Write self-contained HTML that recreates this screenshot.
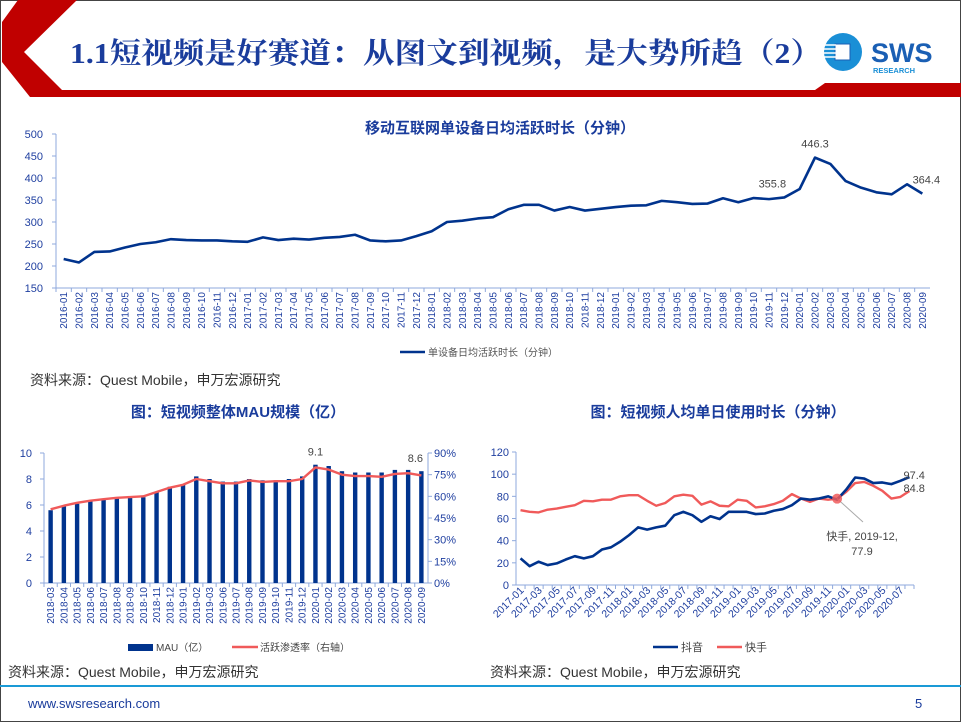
<!DOCTYPE html>
<html><head><meta charset="utf-8"><style>
html,body{margin:0;padding:0;background:#fff}
svg{display:block;font-family:"Liberation Sans","Noto Sans CJK SC",sans-serif}
</style></head><body>
<svg id="s" width="961" height="722" viewBox="0 0 961 722" xmlns="http://www.w3.org/2000/svg">
<rect x="0" y="0" width="961" height="722" fill="#fff" stroke="#444" stroke-width="2"/>
<g>
<polygon points="18,0 77,0 24,52 62,90 815,90 825,83 961,83 961,97 30,97 2,62 2,22" fill="#c00000"/>
<text x="70" y="63" font-size="29" font-weight="bold" fill="#1a3c9c" textLength="752" lengthAdjust="spacingAndGlyphs" font-family="'Liberation Serif','Noto Serif CJK SC',serif">1.1短视频是好赛道：从图文到视频，是大势所趋（2）</text>
<g>
<circle cx="843" cy="52" r="19" fill="#1a8fd6"/>
<rect x="835" y="44" width="15" height="16" fill="#fff" stroke="#1a5fb4" stroke-width="1"/>
<g stroke="#fff" stroke-width="1.5">
<line x1="824" y1="45" x2="836" y2="45"/><line x1="824" y1="49" x2="836" y2="49"/><line x1="824" y1="53" x2="836" y2="53"/><line x1="824" y1="57" x2="836" y2="57"/></g>
<text x="871" y="62" font-size="27" font-weight="bold" fill="#1a5fb4">SWS</text>
<text x="873" y="73" font-size="7.5" font-weight="bold" fill="#1a8fd6">RESEARCH</text>
</g>
</g>
<g id="top"></g>
<text x="30" y="385" font-size="14" fill="#333">资料来源：Quest Mobile，申万宏源研究</text>
<g id="bl"></g>
<g id="br"></g>
<text x="8" y="677" font-size="14" fill="#333">资料来源：Quest Mobile，申万宏源研究</text>
<text x="490" y="677" font-size="14" fill="#333">资料来源：Quest Mobile，申万宏源研究</text>
<rect x="0" y="685" width="961" height="2" fill="#1a9ad6"/>
<text x="28" y="708" font-size="13" fill="#1a3c9c">www.swsresearch.com</text>
<text x="915" y="708" font-size="13" fill="#1a3c9c">5</text>
</svg>
<script>
const NS='http://www.w3.org/2000/svg';
// ---- top chart data
const topCats=[];
for(let y=2016;y<=2020;y++)for(let m=1;m<=12;m++){if(y===2020&&m>9)break;topCats.push(y+'-'+String(m).padStart(2,'0'));}
const topValues=[216,208,232,233,242,250,254,261,259,258,258,256,255,265,259,262,260,264,266,271,258,256,258,268,279,300,303,308,311,329,339,339,326,334,326,330,334,337,338,348,345,341,342,354,345,354.5,352,355.8,375,446.3,432,393,378,367.5,363,385.7,364.4];
const topTicks=[150,200,250,300,350,400,450,500];
const topLabels={47:'355.8',49:'446.3',56:'364.4'};
// ---- MAU chart data
const mauCats=['2018-03','2018-04','2018-05','2018-06','2018-07','2018-08','2018-09','2018-10','2018-11','2018-12','2019-01','2019-02','2019-03','2019-06','2019-07','2019-08','2019-09','2019-10','2019-11','2019-12','2020-01','2020-02','2020-03','2020-04','2020-05','2020-06','2020-07','2020-08','2020-09'];
const mauValues=[5.6,5.9,6.1,6.3,6.4,6.5,6.6,6.6,7.0,7.4,7.6,8.2,8.0,7.8,7.8,8.0,7.9,7.9,8.0,8.2,9.1,9.0,8.6,8.5,8.5,8.5,8.7,8.7,8.6];
const penValues=[51,53.5,55.5,57,58,59,59.5,60,63,66,68,72,70.5,69,69,71,70,70.5,70.5,72,80,78.5,75,74,74,73.5,75.5,76,74.5];
const mauTicks=[0,2,4,6,8,10];
const penTicks=[0,15,30,45,60,75,90];
// ---- daily time chart data
const dtCats=[];
for(let y=2017;y<=2020;y++)for(let m=1;m<=12;m++){if(y===2020&&m>8)break;dtCats.push(y+'-'+String(m).padStart(2,'0'));}
const douyinValues=[24,17,21,18,19.5,23,26,24,26,32,34,39,45,52,50,52,53.5,63,66,63,57,62,59.5,66,66,66,64,64.5,67,68.5,72,78,77,78,80,77,86,97,96,92,92.5,91,94,97.4];
const kuaishouValues=[67.5,66,65.5,68,69,70.5,72,76,75.5,77,77,80,81,81,76,71.5,74,80,81.5,80.5,72.5,75.5,71.5,71,77,76,70,71,73,76,82,78,75,78,77,77.9,84,92,93,89.5,85,78,79.5,84.8];
const dtTicks=[0,20,40,60,80,100,120];

function el(parent,tag,attrs,text){const e=document.createElementNS(NS,tag);for(const k in attrs)e.setAttribute(k,attrs[k]);if(text!==undefined)e.textContent=text;parent.appendChild(e);return e;}
const AX='#8fa9dc', TXT='#1f3fa0', NAVY='#00338d', RED='#f05a5a';

// ---------- top chart
(function(){
 const g=document.getElementById('top');
 const x0=56,x1=930,yTop=134,yBot=288,vmin=150,vmax=500;
 const bw=(x1-x0)/topCats.length;
 const X=i=>x0+bw*(i+0.5), Y=v=>yBot-(v-vmin)/(vmax-vmin)*(yBot-yTop);
 const t=el(g,'text',{x:500,y:133,'font-size':15,'font-weight':'bold',fill:'#1a3c9c','text-anchor':'middle'},'移动互联网单设备日均活跃时长（分钟）');
 
 const ya=el(g,'line',{x1:x0,y1:yTop,x2:x0,y2:yBot,stroke:AX});
 
 const xa=el(g,'line',{x1:x0,y1:yBot,x2:x1,y2:yBot,stroke:AX});
 
 topTicks.forEach(v=>{el(g,'line',{x1:x0-4,y1:Y(v),x2:x0,y2:Y(v),stroke:AX});
  const l=el(g,'text',{x:x0-13,y:Y(v)+4,'font-size':11,fill:TXT,'text-anchor':'end'},v);
  });
 topCats.forEach((c,i)=>{el(g,'line',{x1:x0+bw*i,y1:yBot,x2:x0+bw*i,y2:yBot+4,stroke:AX});
  const l=el(g,'text',{x:0,y:0,'font-size':10,fill:TXT,'text-anchor':'end',transform:`translate(${X(i)+3.5},${yBot+4}) rotate(-90)`},c);
  });
 const p=el(g,'polyline',{points:topValues.map((v,i)=>X(i)+','+Y(v)).join(' '),fill:'none',stroke:NAVY,'stroke-width':2.6,'stroke-linejoin':'round'});
 
 for(const k in topLabels){const i=+k;const l=el(g,'text',{x:X(i)+(i===47?-12:i===56?4:0),y:Y(topValues[i])-10,'font-size':11,fill:'#444','text-anchor':'middle'},topLabels[k]);
  }
 const ll=el(g,'line',{x1:400,y1:352,x2:425,y2:352,stroke:NAVY,'stroke-width':2.6});
 
 const lt=el(g,'text',{x:428,y:356,'font-size':10,fill:'#555'},'单设备日均活跃时长（分钟）');
 
})();

// ---------- MAU chart
(function(){
 const g=document.getElementById('bl');
 const x0=44,x1=428,yTop=453,yBot=583;
 const bw=(x1-x0)/mauCats.length;
 const X=i=>x0+bw*(i+0.5), Y=v=>yBot-v/10*(yBot-yTop), Y2=v=>yBot-v/90*(yBot-yTop);
 const t=el(g,'text',{x:238,y:417,'font-size':15,'font-weight':'bold',fill:'#1a3c9c','text-anchor':'middle'},'图：短视频整体MAU规模（亿）');
 
 el(g,'line',{x1:x0,y1:yTop,x2:x0,y2:yBot,stroke:AX});
 el(g,'line',{x1:x1,y1:yTop,x2:x1,y2:yBot,stroke:AX});
 el(g,'line',{x1:x0,y1:yBot,x2:x1,y2:yBot,stroke:AX});
 mauTicks.forEach(v=>{el(g,'line',{x1:x0-4,y1:Y(v),x2:x0,y2:Y(v),stroke:AX});
  const l=el(g,'text',{x:x0-12,y:Y(v)+4,'font-size':11,fill:TXT,'text-anchor':'end'},v);
  });
 penTicks.forEach(v=>{el(g,'line',{x1:x1,y1:Y2(v),x2:x1+4,y2:Y2(v),stroke:AX});
  const l=el(g,'text',{x:x1+6,y:Y2(v)+4,'font-size':11,fill:TXT},v+'%');
  });
 mauCats.forEach((c,i)=>{el(g,'line',{x1:x0+bw*i,y1:yBot,x2:x0+bw*i,y2:yBot+4,stroke:AX});
  const b=el(g,'rect',{x:X(i)-2.2,y:Y(mauValues[i]),width:4.4,height:yBot-Y(mauValues[i]),fill:NAVY});
  
  const l=el(g,'text',{x:0,y:0,'font-size':10,fill:TXT,'text-anchor':'end',transform:`translate(${X(i)+3.5},${yBot+4}) rotate(-90)`},c);
  });
 const p=el(g,'polyline',{points:penValues.map((v,i)=>X(i)+','+Y2(v)).join(' '),fill:'none',stroke:RED,'stroke-width':2.4,'stroke-linejoin':'round'});
 
 [[20,0],[28,-6]].forEach(([i,dx])=>{const l=el(g,'text',{x:X(i)+dx,y:Y(mauValues[i])-9,'font-size':11,fill:'#444','text-anchor':'middle'},mauValues[i].toFixed(1));
  });
 const s1=el(g,'rect',{x:128,y:644,width:25,height:7,fill:NAVY});
 
 const t1=el(g,'text',{x:156,y:651,'font-size':10,fill:'#444'},'MAU（亿）');
 
 const s2=el(g,'line',{x1:232,y1:647,x2:258,y2:647,stroke:RED,'stroke-width':2.4});
 
 const t2=el(g,'text',{x:260,y:651,'font-size':10,fill:'#444'},'活跃渗透率（右轴）');
 
})();

// ---------- daily time chart
(function(){
 const g=document.getElementById('br');
 const x0=516,x1=914,yTop=452,yBot=585;
 const bw=(x1-x0)/dtCats.length;
 const X=i=>x0+bw*(i+0.5), Y=v=>yBot-v/120*(yBot-yTop);
 const t=el(g,'text',{x:718,y:417,'font-size':15,'font-weight':'bold',fill:'#1a3c9c','text-anchor':'middle'},'图：短视频人均单日使用时长（分钟）');
 
 el(g,'line',{x1:x0,y1:yTop,x2:x0,y2:yBot,stroke:AX});
 el(g,'line',{x1:x0,y1:yBot,x2:x1,y2:yBot,stroke:AX});
 dtTicks.forEach(v=>{el(g,'line',{x1:x0-4,y1:Y(v),x2:x0,y2:Y(v),stroke:AX});
  const l=el(g,'text',{x:x0-7,y:Y(v)+4,'font-size':11,fill:TXT,'text-anchor':'end'},v);
  });
 dtCats.forEach((c,i)=>{el(g,'line',{x1:x0+bw*(i+1),y1:yBot,x2:x0+bw*(i+1),y2:yBot+4,stroke:AX});
  if(i%2===0){const l=el(g,'text',{x:0,y:0,'font-size':10.5,fill:TXT,'text-anchor':'end',transform:`translate(${X(i)+4},${yBot+6}) rotate(-45)`},c);
  }});
 const pk=el(g,'polyline',{points:kuaishouValues.map((v,i)=>X(i)+','+Y(v)).join(' '),fill:'none',stroke:RED,'stroke-width':2.4,'stroke-linejoin':'round'});
 
 const pd=el(g,'polyline',{points:douyinValues.map((v,i)=>X(i)+','+Y(v)).join(' '),fill:'none',stroke:NAVY,'stroke-width':2.6,'stroke-linejoin':'round'});
 
 const hi=35;
 el(g,'line',{x1:X(hi),y1:Y(kuaishouValues[hi]),x2:863,y2:522,stroke:'#aaa','stroke-width':1});
 const c=el(g,'circle',{cx:X(hi),cy:Y(kuaishouValues[hi]),r:5,fill:RED,opacity:0.85});
 
 const a1=el(g,'text',{x:862,y:540,'font-size':11,fill:'#444','text-anchor':'middle'},'快手, '+dtCats[hi]+',');
 
 el(g,'text',{x:862,y:555,'font-size':11,fill:'#444','text-anchor':'middle'},String(kuaishouValues[hi]));
 const n=dtCats.length-1;
 const d1=el(g,'text',{x:X(n)-6,y:Y(douyinValues[n])+2,'font-size':11,fill:'#444'},douyinValues[n]);
 
 const d2=el(g,'text',{x:X(n)-6,y:Y(kuaishouValues[n])+1,'font-size':11,fill:'#444'},kuaishouValues[n]);
 
 const s1=el(g,'line',{x1:653,y1:647,x2:678,y2:647,stroke:NAVY,'stroke-width':2.6});
 
 const t1=el(g,'text',{x:681,y:651,'font-size':11,fill:'#444'},'抖音');
 
 const s2=el(g,'line',{x1:717,y1:647,x2:742,y2:647,stroke:RED,'stroke-width':2.4});
 
 const t2=el(g,'text',{x:745,y:651,'font-size':11,fill:'#444'},'快手');
 
})();
</script>
</body></html>
